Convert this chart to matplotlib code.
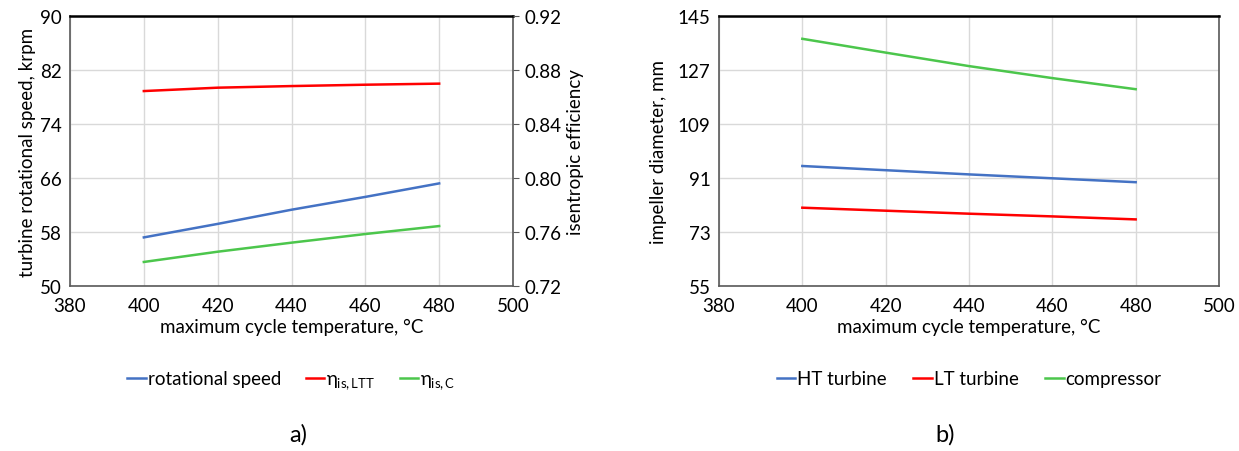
import numpy as np
import matplotlib
matplotlib.use("Agg")
import matplotlib.pyplot as plt

plt.rcParams['font.family'] = ['Lato', 'DejaVu Sans']
plt.rcParams['mathtext.fontset'] = 'custom'
plt.rcParams['mathtext.rm'] = 'Lato'
plt.rcParams['mathtext.it'] = 'Lato'

temp = [400, 420, 440, 460, 480]

# a) turbine speed (krpm) and isentropic efficiencies
rot_speed = [57.2, 59.2, 61.3, 63.2, 65.2]
eta_ltt = [0.8644, 0.8669, 0.8681, 0.8691, 0.8699]
eta_c = [0.7378, 0.7454, 0.7521, 0.7585, 0.7644]

# b) impeller diameters (mm)
d_ht = [95.0, 93.6, 92.2, 90.9, 89.6]
d_lt = [81.1, 80.1, 79.1, 78.2, 77.2]
d_comp = [137.4, 132.8, 128.3, 124.3, 120.6]

BLUE = '#4472c4'
RED = '#ff0000'
GREEN = '#4cc64c'
FS = 13.5


def style(ax):
    ax.set_xlim(380, 500)
    ax.set_xticks(np.arange(380, 501, 20))
    ax.grid(True, color='#d9d9d9', lw=1)
    ax.set_axisbelow(True)
    for s in ['left', 'right', 'bottom']:
        ax.spines[s].set_color('#595959')
        ax.spines[s].set_linewidth(1.2)
    ax.spines['top'].set_color('black')
    ax.spines['top'].set_linewidth(1.8)
    ax.tick_params(labelsize=FS, length=0, pad=6)
    ax.tick_params(axis='x', pad=8)
    ax.set_xlabel('maximum cycle temperature, °C', fontsize=FS, labelpad=3)


fig = plt.figure(figsize=(12.39, 4.52), dpi=100)

# panel a
ax1 = fig.add_axes([70 / 1239, 1 - 287 / 452, 443 / 1239, 270 / 452])
style(ax1)
ax1.set_ylim(50, 90)
ax1.set_yticks(np.arange(50, 91, 8))
ax1.set_ylabel('turbine rotational speed, krpm', fontsize=FS, labelpad=3)
l1, = ax1.plot(temp, rot_speed, color=BLUE, lw=1.8, label='rotational speed')

ax2 = ax1.twinx()
ax2.set_ylim(0.72, 0.92)
ax2.set_yticks(np.arange(0.72, 0.921, 0.04))
ax2.set_yticklabels([f'{v:.2f}' for v in np.arange(0.72, 0.921, 0.04)])
ax2.tick_params(labelsize=FS, length=4, color='#595959', pad=4)
for s in ax2.spines.values():
    s.set_visible(False)
ax2.set_ylabel('isentropic efficiency', fontsize=FS, labelpad=4)
l2, = ax2.plot(temp, eta_ltt, color=RED, lw=1.8, label=r'$\eta_{\mathrm{is,LTT}}$')
l3, = ax2.plot(temp, eta_c, color=GREEN, lw=1.8, label=r'$\eta_{\mathrm{is,C}}$')

ax1.legend(handles=[l1, l2, l3], loc='upper center', bbox_to_anchor=(0.5, -0.25),
           ncol=3, frameon=False, prop={'size': FS}, handlelength=1.0,
           handletextpad=0.1, columnspacing=1.3)
fig.text(298 / 1239, 1 - 435 / 452, 'a)', fontsize=17, ha='center', va='center')

# panel b
ax3 = fig.add_axes([719 / 1239, 1 - 287 / 452, 500 / 1239, 270 / 452])
style(ax3)
ax3.set_ylim(55, 145)
ax3.set_yticks(np.arange(55, 146, 18))
ax3.set_ylabel('impeller diameter, mm', fontsize=FS, labelpad=8)
ax3.plot(temp, d_ht, color=BLUE, lw=1.8, label='HT turbine')
ax3.plot(temp, d_lt, color=RED, lw=1.8, label='LT turbine')
ax3.plot(temp, d_comp, color=GREEN, lw=1.8, label='compressor')
ax3.legend(loc='upper center', bbox_to_anchor=(0.5, -0.25),
           ncol=3, frameon=False, fontsize=FS, handlelength=1.0,
           handletextpad=0.1, columnspacing=1.4)
fig.text(945 / 1239, 1 - 435 / 452, 'b)', fontsize=17, ha='center', va='center')

fig.savefig('out.png', dpi=100)
